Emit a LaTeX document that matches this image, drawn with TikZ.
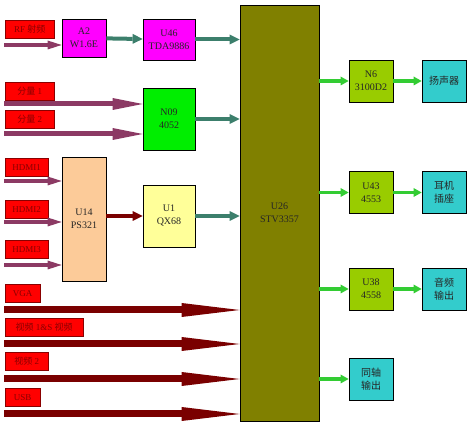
\documentclass[tikz,border=0pt]{standalone}
\usepackage{fontspec}
\setmainfont{Liberation Serif}
\newfontfamily\cjk{Noto Sans CJK SC}
\usetikzlibrary{arrows.meta}

\definecolor{lblred}{HTML}{FF0000}
\definecolor{lbltext}{HTML}{8A0000}
\definecolor{chipmag}{HTML}{FF00FF}
\definecolor{chipgreen}{HTML}{00EE00}
\definecolor{chippeach}{HTML}{FCCB99}
\definecolor{chipyellow}{HTML}{FFFF99}
\definecolor{chipolive}{HTML}{808000}
\definecolor{chiplime}{HTML}{99CC00}
\definecolor{chipcyan}{HTML}{33CCCC}
\definecolor{arrteal}{HTML}{3C7F6C}
\definecolor{arrpurple}{HTML}{8C3A64}
\definecolor{arrdark}{HTML}{7A0000}
\definecolor{arrgreen}{HTML}{33CC33}

\begin{document}
\begin{tikzpicture}[x=1pt,y=-1pt,
    blk/.style={draw=black, line width=0.8pt, align=center, inner sep=0pt,
        text=black!85, font=\fontsize{10}{13}\selectfont},
    inlbl/.style={draw=lbltext, line width=0.4pt, fill=lblred, anchor=north west,
        inner sep=0pt, minimum height=18pt, text=lbltext,
        font=\fontsize{9}{11}\selectfont},
    tealarr/.style={arrteal, line width=4pt, -{Triangle[length=10pt,width=10pt,line width=0pt]}},
    purparr/.style={arrpurple, line width=5pt, -{Triangle[length=30pt,width=12pt,line width=0pt]}},
    hdmiarr/.style={arrpurple, line width=4pt, -{Triangle[length=14pt,width=9pt,line width=0pt]}},
    redarr/.style={arrdark, line width=4pt, -{Triangle[length=10pt,width=10pt,line width=0pt]}},
    bigarr/.style={arrdark, line width=7pt, -{Triangle[length=58pt,width=14pt,line width=0pt]}},
    outarr/.style={arrgreen, line width=3.5pt, -{Triangle[length=8pt,width=9pt,line width=0pt]}}
]
    \useasboundingbox (0,0) rectangle (469,427);

    % main processor
    \node[blk, fill=chipolive, minimum width=79pt, minimum height=416pt] (U26) at (279.5,213) {U26\\STV3357};

    % tuner path
    \node[blk, fill=chipmag, minimum width=44pt, minimum height=38pt] (A2) at (84,38) {A2\\W1.6E};
    \node[blk, fill=chipmag, minimum width=52pt, minimum height=41pt] (U46) at (169,39.5) {U46\\TDA9886};
    \node[blk, fill=chipgreen, minimum width=52pt, minimum height=62pt] (N09) at (169,119) {N09\\4052};
    \node[blk, fill=chippeach, minimum width=44pt, minimum height=124pt] (U14) at (84,219) {U14\\PS321};
    \node[blk, fill=chipyellow, minimum width=52pt, minimum height=62pt] (U1) at (169,216) {U1\\QX68};

    % input labels
    \node[inlbl, minimum width=49pt] (rf) at (5,20) {RF {\cjk 射频}};
    \node[inlbl, minimum width=49pt] (yuv1) at (5,82) {{\cjk 分量} 1};
    \node[inlbl, minimum width=49pt] (yuv2) at (5,110) {{\cjk 分量} 2};
    \node[inlbl, minimum width=43pt] (hdmi1) at (5,158) {HDMI1};
    \node[inlbl, minimum width=43pt] (hdmi2) at (5,200) {HDMI2};
    \node[inlbl, minimum width=43pt] (hdmi3) at (5,240) {HDMI3};
    \node[inlbl, minimum width=35pt] (vga) at (5,284) {VGA};
    \node[inlbl, minimum width=78pt] (av1) at (5,318) {{\cjk 视频} 1\&S {\cjk 视频}};
    \node[inlbl, minimum width=43pt] (av2) at (5,352) {{\cjk 视频} 2};
    \node[inlbl, minimum width=35pt] (usb) at (5,388) {USB};

    % input arrow tails
    \coordinate (rfin) at (4,45);
    \coordinate (yuv1in) at (4,104);
    \coordinate (yuv2in) at (4,134);
    \coordinate (hdmi1in) at (4,181);
    \coordinate (hdmi2in) at (4,222);
    \coordinate (hdmi3in) at (4,265);
    \coordinate (vgain) at (4,310);
    \coordinate (av1in) at (4,344);
    \coordinate (av2in) at (4,379);
    \coordinate (usbin) at (4,414);

    \draw[hdmiarr] (rfin) -- (rfin -| A2.west);
    \draw[tealarr] (A2) -- (U46);
    \draw[tealarr] (U46) -- (U46 -| U26.west);
    \draw[purparr] (yuv1in) -- (yuv1in -| N09.west);
    \draw[purparr] (yuv2in) -- (yuv2in -| N09.west);
    \draw[tealarr] (N09) -- (N09 -| U26.west);
    \draw[hdmiarr] (hdmi1in) -- (hdmi1in -| U14.west);
    \draw[hdmiarr] (hdmi2in) -- (hdmi2in -| U14.west);
    \draw[hdmiarr] (hdmi3in) -- (hdmi3in -| U14.west);
    \draw[redarr] (U14.east |- U1) -- (U1);
    \draw[tealarr] (U1) -- (U1 -| U26.west);
    \draw[bigarr] (vgain) -- (vgain -| U26.west);
    \draw[bigarr] (av1in) -- (av1in -| U26.west);
    \draw[bigarr] (av2in) -- (av2in -| U26.west);
    \draw[bigarr] (usbin) -- (usbin -| U26.west);

    % audio outputs
    \node[blk, fill=chiplime, minimum width=44pt, minimum height=42pt] (N6) at (371,81) {N6\\3100D2};
    \node[blk, fill=chipcyan, minimum width=44pt, minimum height=42pt] (spk) at (444,81) {\cjk 扬声器};
    \node[blk, fill=chiplime, minimum width=44pt, minimum height=42pt] (U43) at (371,192.5) {U43\\4553};
    \node[blk, fill=chipcyan, minimum width=44pt, minimum height=42pt] (hp) at (444,192.5) {\cjk 耳机\\\cjk 插座};
    \node[blk, fill=chiplime, minimum width=44pt, minimum height=42pt] (U38) at (371,289) {U38\\4558};
    \node[blk, fill=chipcyan, minimum width=44pt, minimum height=42pt] (aout) at (444,289) {\cjk 音频\\\cjk 输出};
    \node[blk, fill=chipcyan, minimum width=44pt, minimum height=42pt] (coax) at (371,379) {\cjk 同轴\\\cjk 输出};

    \draw[outarr] (U26.east |- N6) -- (N6);
    \draw[outarr] (N6) -- (spk);
    \draw[outarr] (U26.east |- U43) -- (U43);
    \draw[outarr] (U43) -- (hp);
    \draw[outarr] (U26.east |- U38) -- (U38);
    \draw[outarr] (U38) -- (aout);
    \draw[outarr] (U26.east |- coax) -- (coax);
\end{tikzpicture}
\end{document}
